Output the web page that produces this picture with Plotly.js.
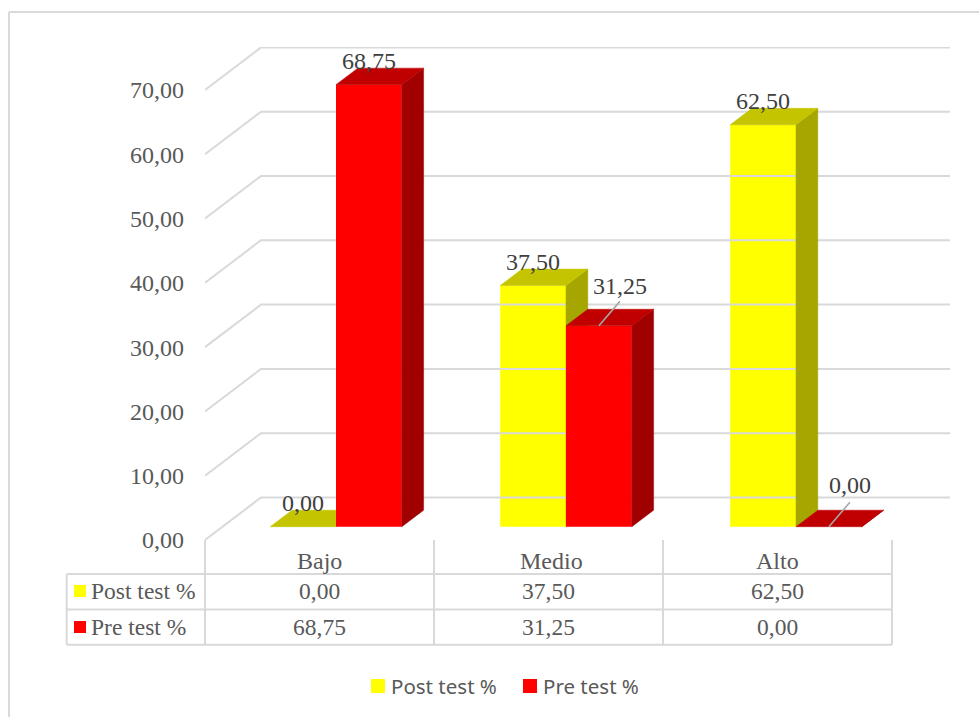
<!DOCTYPE html>
<html>
<head>
<meta charset="utf-8">
<script src="https://cdn.plot.ly/plotly-3.0.1.min.js"></script>
<style>html,body{margin:0;padding:0;background:#fff}#chart{width:979px;height:717px}</style>
</head>
<body>
<div id="chart"></div>
<script>
// ---- data ----
const categories = ['Bajo', 'Medio', 'Alto'];
const seriesNames = ['Post test %', 'Pre test %'];
const postTest = [0.00, 37.50, 62.50];
const preTest = [68.75, 31.25, 0.00];
const yTicks = [0, 10, 20, 30, 40, 50, 60, 70];

// ---- layout constants (pixels of the 979x717 page) ----
const W = 979, H = 717;
const plotL = 205, plotR = 950, plotT = 47, plotB = 540;
const pxPerCat = 230, pxPerVal = 6.43, cat0Px = 336;
const xRange = [(plotL - cat0Px) / pxPerCat, (plotR - cat0Px) / pxPerCat];
const yRange = [0, (plotB - plotT) / pxPerVal];
const barW = 65.8 / pxPerCat;
const barBase = 13.3 / pxPerVal;
const depthX = 21.8 / pxPerCat, depthY = 16.5 / pxPerVal;
const wallX = 56 / pxPerCat, wallY = 42.5 / pxPerVal;
const gridC = '#d9d9d9', axisText = '#595959', labelText = '#404040';
const serif = '"Liberation Serif", "Times New Roman", serif';
const fmt = v => v.toFixed(2).replace('.', ',');
const px = p => (p - plotL) / (plotR - plotL);
const py = p => (plotB - p) / (plotB - plotT);

const styles = [
  {front: '#ffff00', top: '#c4c400', side: '#a6a600', offset: -barW, xa: 'x', ya: 'y'},
  {front: '#ff0000', top: '#c00000', side: '#a00000', offset: 0, xa: 'x2', ya: 'y2'}
];
// label shift [right, up] in pixels for the labels that have a leader line
const leaderFor = {1: [null, null, null], 2: [null, [21, 40], [21, 42]]};

// wall gridlines follow the value axis
const gx = [], gy = [];
yTicks.forEach(v => {
  gx.push(xRange[0], xRange[0] + wallX, xRange[1], null);
  gy.push(v, v + wallY, v + wallY, null);
});
const traces = [{
  type: 'scatter', mode: 'lines', x: gx, y: gy, xaxis: 'x', yaxis: 'y',
  line: {color: gridC, width: 2}, hoverinfo: 'skip', showlegend: false, cliponaxis: false
}];

// one bar series with its top and side faces, on its own overlaid axes so Pre covers Post
function addSeries(values, s, name) {
  traces.push({
    type: 'bar', name: name, x: categories.map((c, i) => i), y: values, base: barBase,
    width: barW, offset: s.offset, marker: {color: s.front, line: {width: 0}},
    xaxis: s.xa, yaxis: s.ya, showlegend: false, cliponaxis: false
  });
  const tx = [], ty = [], sx = [], sy = [];
  values.forEach((v, i) => {
    const l = i + s.offset, r = l + barW, top = barBase + v;
    tx.push(l, r, r + depthX, l + depthX, l, null);
    ty.push(top, top, top + depthY, top + depthY, top, null);
    sx.push(r, r + depthX, r + depthX, r, r, null);
    sy.push(barBase, barBase + depthY, top + depthY, top, barBase, null);
  });
  [[sx, sy, s.side], [tx, ty, s.top]].forEach(f => traces.push({
    type: 'scatter', mode: 'lines', x: f[0], y: f[1], fill: 'toself', fillcolor: f[2],
    line: {color: f[2], width: 0.5}, xaxis: s.xa, yaxis: s.ya,
    hoverinfo: 'skip', showlegend: false, cliponaxis: false
  }));
}
addSeries(postTest, styles[0], seriesNames[0]);
addSeries(preTest, styles[1], seriesNames[1]);

// leader lines and data labels
const annotations = [];
const shapes = [];
const leadDX = 21 / pxPerCat, leadDY = 24.4 / pxPerVal;
const lx = [], ly = [];
[postTest, preTest].forEach((vals, si) => {
  vals.forEach((v, i) => {
    const cx = i + styles[si].offset + barW / 2, top = barBase + v;
    const lead = leaderFor[si + 1][i];
    if (lead) { lx.push(cx, cx + leadDX, null); ly.push(top, top + leadDY, null); }
    annotations.push({
      xref: 'x', yref: 'y', x: cx, y: top, text: fmt(v), showarrow: false,
      xanchor: 'center', yanchor: 'middle', xshift: lead ? lead[0] : 0, yshift: lead ? lead[1] : 23.5,
      font: {family: serif, size: 24, color: labelText}
    });
  });
});
traces.push({
  type: 'scatter', mode: 'lines', x: lx, y: ly, xaxis: 'x2', yaxis: 'y2',
  line: {color: '#a6a6a6', width: 1.6}, hoverinfo: 'skip', showlegend: false, cliponaxis: false
});

// data table under the axis
const tblX = [66.7, 205, 434, 663, 892], tblRows = [574, 609.4, 644.7];
const tline = (x0, y0, x1, y1) => shapes.push({
  type: 'line', xref: 'paper', yref: 'paper', x0: px(x0), y0: py(y0), x1: px(x1), y1: py(y1),
  line: {color: gridC, width: 2}
});
tblRows.forEach(y => tline(tblX[0], y, tblX[4], y));
tline(tblX[0], tblRows[0], tblX[0], tblRows[2]);
tblX.slice(1).forEach(x => tline(x, plotB, x, tblRows[2]));

const ptext = (x, y, text, anchor, font) => annotations.push({
  xref: 'paper', yref: 'paper', x: px(x), y: py(y), text: text, showarrow: false,
  xanchor: anchor, yanchor: 'middle', xshift: 0, yshift: 0, font: font
});
const square = (x, y, size, color) => shapes.push({
  type: 'rect', xref: 'paper', yref: 'paper', x0: px(x), x1: px(x + size),
  y0: py(y), y1: py(y + size), fillcolor: color, line: {width: 0}
});
const tblFont = {family: serif, size: 23.5, color: axisText};
const colCenters = [319.5, 548.5, 777.5], headCenters = [319.5, 551, 777.5], rowCenters = [591, 627];
categories.forEach((c, i) => ptext(headCenters[i], 561, c, 'center', {family: serif, size: 24, color: axisText}));
[postTest, preTest].forEach((vals, r) => {
  square(74, rowCenters[r] - 6, 12, styles[r].front);
  ptext(89, rowCenters[r], seriesNames[r], 'left', tblFont);
  vals.forEach((v, i) => ptext(colCenters[i], rowCenters[r], fmt(v), 'center', tblFont));
});

// legend
const legFont = {family: '"Noto Sans", sans-serif', size: 20.5, color: axisText};
[[371, 389], [523, 541]].forEach((p, i) => {
  square(p[0], 679, 14, styles[i].front);
  ptext(p[1], 685.5, seriesNames[i], 'left', legFont);
});

// chart frame: only top and left edges are visible in the crop
shapes.push({type: 'line', xref: 'paper', yref: 'paper', x0: px(9), y0: py(12), x1: px(W), y1: py(12), line: {color: gridC, width: 2}});
shapes.push({type: 'line', xref: 'paper', yref: 'paper', x0: px(9), y0: py(12), x1: px(9), y1: py(H), line: {color: gridC, width: 2}});

const layout = {
  width: W, height: H, autosize: false, showlegend: false, hovermode: false,
  paper_bgcolor: '#fff', plot_bgcolor: 'rgba(0,0,0,0)', separators: ', ',
  margin: {l: plotL, r: W - plotR, t: plotT, b: H - plotB, pad: 0},
  xaxis: {range: xRange, visible: false, fixedrange: true},
  xaxis2: {range: xRange, visible: false, overlaying: 'x', fixedrange: true},
  yaxis: {
    range: yRange, tickvals: yTicks, tickformat: '.2f', showgrid: false, zeroline: false,
    showline: false, ticks: '', ticklabelstandoff: 20, fixedrange: true,
    tickfont: {family: serif, size: 24, color: axisText}
  },
  yaxis2: {range: yRange, visible: false, overlaying: 'y', fixedrange: true},
  shapes: shapes, annotations: annotations
};
Plotly.newPlot('chart', traces, layout, {displayModeBar: false, staticPlot: true});
</script>
</body>
</html>
